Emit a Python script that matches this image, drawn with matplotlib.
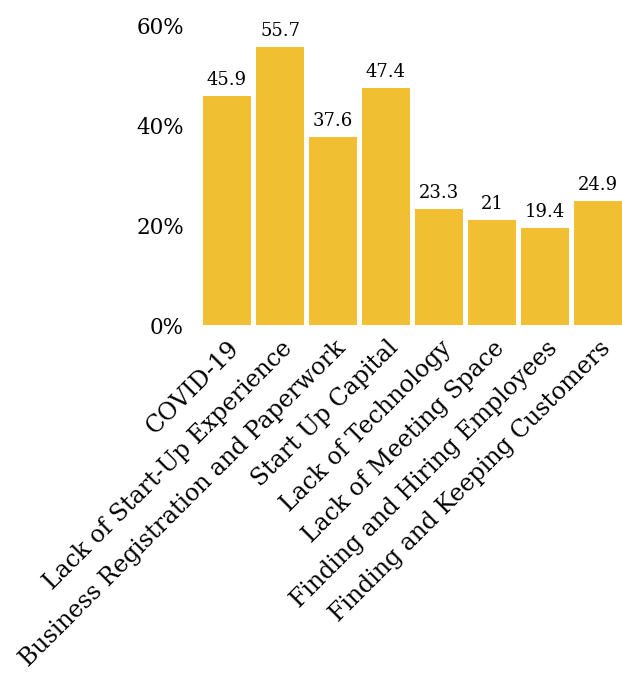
import matplotlib
matplotlib.use("Agg")
import matplotlib.pyplot as plt
import matplotlib.transforms as mtransforms
from matplotlib.ticker import FuncFormatter

categories = ["COVID-19", "Lack of Start-Up Experience", "Business Registration and Paperwork",
              "Start Up Capital", "Lack of Technology", "Lack of Meeting Space",
              "Finding and Hiring Employees", "Finding and Keeping Customers"]
values = [45.9, 55.7, 37.6, 47.4, 23.3, 21, 19.4, 24.9]
yticks = [0, 20, 40, 60]

plt.rcParams['font.family'] = ['DejaVu Serif']

fig = plt.figure(figsize=(6.22, 6.8), dpi=100)
ax = fig.add_axes([200.5/622, 1 - 325/680, 424/622, 300/680])
x = list(range(len(categories)))
bars = ax.bar(x, values, width=0.905, color="#F0C032", linewidth=0)
ax.set_xlim(-0.5, 7.5)
ax.set_ylim(0, 60)
ax.set_yticks(yticks)
ax.yaxis.set_major_formatter(FuncFormatter(lambda v, p: f"{v:g}%"))
ax.tick_params(axis='y', length=0, pad=12, labelsize=15.5)
ax.set_xticks(x)
ax.set_xticklabels(categories, rotation=45, ha='right', va='center', rotation_mode='anchor', fontsize=17)
ax.tick_params(axis='x', length=0, pad=14)
offset = mtransforms.ScaledTranslation(9/100, 0, fig.dpi_scale_trans)
for lbl in ax.get_xticklabels():
    lbl.set_transform(lbl.get_transform() + offset)
for s in ax.spines.values():
    s.set_visible(False)
for xi, v in zip(x, values):
    ax.annotate(f"{v:g}", (xi, v), xytext=(0, 5), textcoords='offset points',
                ha='center', va='bottom', fontsize=13)
fig.savefig("out.png", dpi=100)
